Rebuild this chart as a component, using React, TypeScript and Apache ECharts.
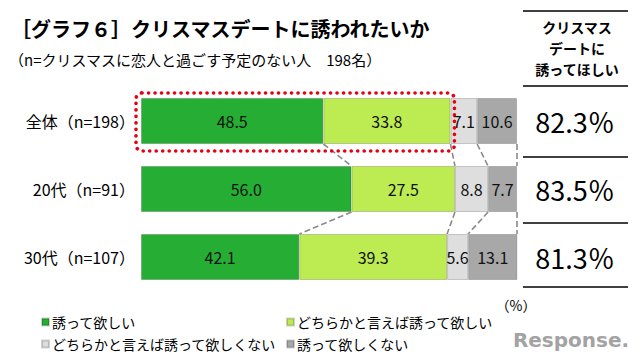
import React, { useEffect, useRef } from "react";
import * as echarts from "echarts";

const categories = ["全体（n=198）", "20代（n=91）", "30代（n=107）"];
const seriesNames = [
  "誘って欲しい",
  "どちらかと言えば誘って欲しい",
  "どちらかと言えば誘って欲しくない",
  "誘って欲しくない",
];
const wantStrongly = [48.5, 56.0, 42.1];
const wantSomewhat = [33.8, 27.5, 39.3];
const notSomewhat = [7.1, 8.8, 5.6];
const notAtAll = [10.6, 7.7, 13.1];
const wantTotal = [82.3, 83.5, 81.3];
const tableHeader = "クリスマス\nデートに\n誘ってほしい";
const titleText = "［グラフ６］クリスマスデートに誘われたいか";
const subtitleText = "（n=クリスマスに恋人と過ごす予定のない人　198名）";

const colors = ["#25AE33", "#BDEB52", "#DEDEDE", "#A8A8A8"];
const FONT = "Noto Sans CJK JP";
const BAR_W = 46;

export default function App() {
  const ref = useRef<HTMLDivElement>(null);
  useEffect(() => {
    if (!ref.current) return;
    const chart = echarts.init(ref.current, null, { renderer: "svg" });
    const seriesData = [wantStrongly, wantSomewhat, notSomewhat, notAtAll];

    const cum = categories.map((_, r) => {
      let s = 0;
      return seriesData.map((arr) => {
        s += arr[r];
        return Math.min(s, 100);
      });
    });
    const connectors: number[][] = [];
    for (let r = 0; r < categories.length - 1; r++) {
      for (let k = 0; k < seriesData.length; k++) {
        connectors.push([cum[r][k], r, cum[r + 1][k], r + 1]);
      }
    }

    const bars = seriesData.map((arr, i) => ({
      name: seriesNames[i],
      type: "bar",
      stack: "total",
      yAxisIndex: 0,
      barWidth: BAR_W,
      data: arr,
      itemStyle: { color: colors[i], borderColor: "rgba(0,0,0,0.18)", borderWidth: 1 },
      label: {
        show: true,
        position: "inside",
        formatter: (p: any) => Number(p.value).toFixed(1),
        fontSize: 16,
        color: "#111",
        fontFamily: FONT,
      },
    }));

    chart.setOption({
      animation: false,
      textStyle: { fontFamily: FONT },
      title: [
        {
          text: titleText,
          left: 6,
          top: 13,
          textStyle: { fontSize: 20, fontWeight: "bold", color: "#000", fontFamily: FONT },
        },
        {
          text: subtitleText,
          left: 4,
          top: 47,
          textStyle: { fontSize: 15, fontWeight: "normal", color: "#000", fontFamily: FONT },
        },
      ],
      legend: {
        data: seriesNames,
        left: 36,
        top: 310,
        width: 500,
        orient: "horizontal",
        icon: "rect",
        itemWidth: 7,
        itemHeight: 7,
        itemGap: 8,
        textStyle: {
          fontSize: 14,
          color: "#000",
          width: 226,
          lineHeight: 14,
          padding: [0, 0, 0, -2],
          fontFamily: FONT,
        },
      },
      grid: { left: 141, width: 376, top: 87, height: 204 },
      xAxis: { type: "value", min: 0, max: 100, show: false },
      yAxis: [
        {
          type: "category",
          data: categories,
          inverse: true,
          axisLine: { show: false },
          axisTick: { show: false },
          axisLabel: { fontSize: 16, color: "#000", margin: 6, fontFamily: FONT },
        },
        {
          type: "category",
          data: wantTotal.map((v) => v.toFixed(1) + "％"),
          inverse: true,
          position: "right",
          axisLine: { show: false },
          axisTick: { show: false },
          axisLabel: {
            fontSize: 27,
            color: "#000",
            margin: 58,
            align: "center",
            padding: [7, 0, 0, 0],
            fontFamily: FONT,
          },
        },
      ],
      series: [
        ...bars,
        {
          type: "custom",
          name: "connectors",
          yAxisIndex: 0,
          silent: true,
          z: 3,
          data: connectors,
          renderItem: (params: any, api: any) => {
            const p1 = api.coord([api.value(0), api.value(1)]);
            const p2 = api.coord([api.value(2), api.value(3)]);
            return {
              type: "line",
              shape: { x1: p1[0], y1: p1[1] + BAR_W / 2, x2: p2[0], y2: p2[1] - BAR_W / 2 },
              style: { stroke: "#8a8a8a", lineWidth: 1.6, lineDash: [6, 3], fill: null },
            };
          },
        },
        {
          type: "custom",
          name: "highlight",
          yAxisIndex: 0,
          silent: true,
          z: 5,
          data: [[0, 0, wantStrongly[0] + wantSomewhat[0]]],
          renderItem: (params: any, api: any) => {
            const p1 = api.coord([api.value(0), api.value(1)]);
            const p2 = api.coord([api.value(2), api.value(1)]);
            return {
              type: "rect",
              shape: {
                x: p1[0] - 5,
                y: p1[1] - BAR_W / 2 - 5,
                width: p2[0] - p1[0] + 9,
                height: BAR_W + 12,
                r: 6,
              },
              style: {
                fill: "none",
                stroke: "#E60012",
                lineWidth: 3.6,
                lineDash: [0.1, 6.4],
                lineCap: "round",
              },
            };
          },
        },
      ],
      graphic: [
        { type: "line", shape: { x1: 523, y1: 11, x2: 628, y2: 11 }, style: { stroke: "#404040", lineWidth: 2 } },
        { type: "line", shape: { x1: 523, y1: 86, x2: 628, y2: 86 }, style: { stroke: "#404040", lineWidth: 2 } },
        { type: "line", shape: { x1: 523, y1: 157, x2: 628, y2: 157 }, style: { stroke: "#404040", lineWidth: 2 } },
        { type: "line", shape: { x1: 523, y1: 223, x2: 628, y2: 223 }, style: { stroke: "#404040", lineWidth: 2 } },
        { type: "line", shape: { x1: 523, y1: 287, x2: 628, y2: 287 }, style: { stroke: "#404040", lineWidth: 2 } },
        {
          type: "text",
          x: 577,
          y: 48,
          style: {
            text: tableHeader,
            fontSize: 14,
            fontWeight: "bold",
            lineHeight: 21,
            fill: "#000",
            align: "center",
            verticalAlign: "middle",
            fontFamily: FONT,
          },
        },
        {
          type: "text",
          x: 516,
          y: 305,
          style: {
            text: "（%）",
            fontSize: 14,
            fill: "#000",
            align: "center",
            verticalAlign: "middle",
            fontFamily: FONT,
          },
        },
        {
          type: "text",
          x: 571,
          y: 340,
          style: {
            text: "Response.",
            fontSize: 20,
            fontWeight: "bold",
            fill: "#a3a3a3",
            align: "center",
            verticalAlign: "middle",
            fontFamily: "DejaVu Sans",
          },
        },
      ],
    });
    return () => chart.dispose();
  }, []);
  return (
    <div
      ref={ref}
      style={{ position: "absolute", left: 0, top: 0, width: 640, height: 360, background: "#fff" }}
    />
  );
}
